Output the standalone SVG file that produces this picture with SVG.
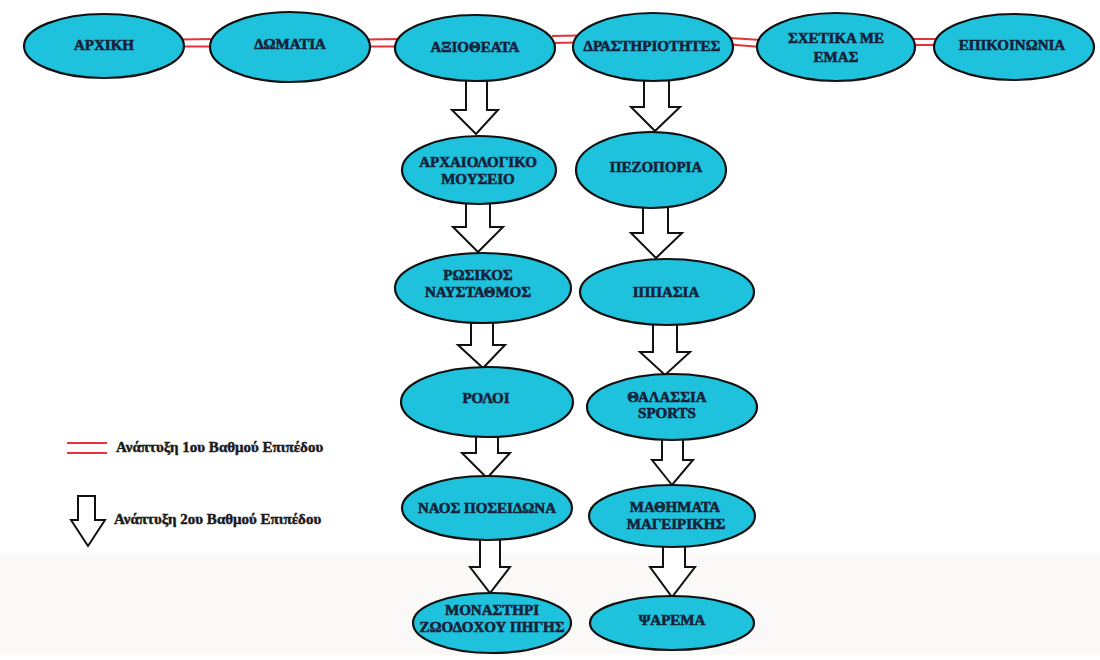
<svg xmlns="http://www.w3.org/2000/svg" width="1100" height="660" viewBox="0 0 1100 660">
<defs>
<style>
.bg{fill:#ffffff}
.bg2{fill:#faf9f7}
.node{fill:#1fc2dd;stroke:#111;stroke-width:2.2}
.lbl{font-family:"Liberation Serif","Times New Roman",serif;font-weight:700;font-size:15px;fill:#16223a;text-anchor:middle;stroke:#16223a;stroke-width:0.6}
.leg{font-family:"Liberation Serif","Times New Roman",serif;font-weight:700;font-size:15px;fill:#1a1a1a;stroke:#1a1a1a;stroke-width:0.45}
.red{stroke:#e53238;stroke-width:1.8;fill:none}
.blk{fill:#ffffff;stroke:#111;stroke-width:2;stroke-linejoin:miter}
</style>
</defs>
<rect class="bg" x="0" y="0" width="1100" height="660"/>
<rect class="bg2" x="0" y="553" width="1100" height="102"/>

<g id="connectors">
<path class="red" d="M180,39.5 L214,39 M180,46.5 L214,46.5"/>
<path class="red" d="M366,39.5 L399,39 M366,46.5 L399,46.5"/>
<path class="red" d="M552,36 L577,35.5 M552,43 L577,42.5"/>
<path class="red" d="M730,38 L761,40 M730,44.5 L761,47"/>
<path class="red" d="M912,39 L938,39 M912,45 L938,45"/>

<path class="blk" d="M466,78 L487,78 L487,110 L498,110 L476,134 L452,110 L466,110 Z"/>
<path class="blk" d="M644,78 L669,78 L669,107 L680,107 L655,131 L631,107 L644,107 Z"/>
<path class="blk" d="M466,200 L490,200 L490,227 L503,227 L478,252 L453,227 L466,227 Z"/>
<path class="blk" d="M643,204 L668,204 L668,233 L682,233 L656,258 L631,233 L643,233 Z"/>
<path class="blk" d="M471,318 L493,318 L493,345 L505,345 L483,368 L458,345 L471,345 Z"/>
<path class="blk" d="M653,321 L677,321 L677,352 L690,352 L665,375 L640,352 L653,352 Z"/>
<path class="blk" d="M476,433 L498,433 L498,453 L510,453 L487,478 L462,453 L476,453 Z"/>
<path class="blk" d="M662,436 L683,436 L683,460 L693,460 L672,485 L652,460 L662,460 Z"/>
<path class="blk" d="M480,536 L500,536 L500,567 L510,567 L490,593 L470,567 L480,567 Z"/>
<path class="blk" d="M663,543 L685,543 L685,567 L695,567 L672,597 L650,567 L663,567 Z"/>
</g>

<g id="n-arxiki"><ellipse class="node" cx="104" cy="46" rx="80" ry="32"/><text class="lbl" x="104" y="50" font-weight="bold">ΑΡΧΙΚΗ</text></g>
<g id="n-domatia"><ellipse class="node" cx="290" cy="47" rx="80" ry="35"/><text class="lbl" x="290" y="49" font-weight="bold">ΔΩΜΑΤΙΑ</text></g>
<g id="n-axiotheata"><ellipse class="node" cx="475" cy="48" rx="80" ry="33"/><text class="lbl" x="475" y="52" font-weight="bold">ΑΞΙΟΘΕΑΤΑ</text></g>
<g id="n-drastiriotites"><ellipse class="node" cx="653" cy="47" rx="80" ry="34"/><text class="lbl" x="652" y="51" font-weight="bold">ΔΡΑΣΤΗΡΙΟΤΗΤΕΣ</text></g>
<g id="n-schetika"><ellipse class="node" cx="836" cy="47" rx="79" ry="34"/><text class="lbl" x="836" y="43" font-weight="bold">ΣΧΕΤΙΚΑ ΜΕ</text><text class="lbl" x="836" y="62" font-weight="bold">ΕΜΑΣ</text></g>
<g id="n-epikoinonia"><ellipse class="node" cx="1014" cy="47" rx="80" ry="33"/><text class="lbl" x="1012" y="50" font-weight="bold">ΕΠΙΚΟΙΝΩΝΙΑ</text></g>

<g id="n-mouseio"><ellipse class="node" cx="479" cy="170" rx="77" ry="34"/><text class="lbl" x="478" y="167" font-weight="bold">ΑΡΧΑΙΟΛΟΓΙΚΟ</text><text class="lbl" x="478" y="184" font-weight="bold">ΜΟΥΣΕΙΟ</text></g>
<g id="n-pezoporia"><ellipse class="node" cx="651" cy="170" rx="75" ry="38"/><text class="lbl" x="656" y="172" font-weight="bold">ΠΕΖΟΠΟΡΙΑ</text></g>
<g id="n-naustathmos"><ellipse class="node" cx="483" cy="288" rx="88" ry="35"/><text class="lbl" x="478" y="280" font-weight="bold">ΡΩΣΙΚΟΣ</text><text class="lbl" x="478" y="297" font-weight="bold">ΝΑΥΣΤΑΘΜΟΣ</text></g>
<g id="n-ippasia"><ellipse class="node" cx="667" cy="292" rx="87" ry="33"/><text class="lbl" x="666" y="297" font-weight="bold">ΙΠΠΑΣΙΑ</text></g>
<g id="n-roloi"><ellipse class="node" cx="487" cy="402" rx="86" ry="35"/><text class="lbl" x="486" y="403" font-weight="bold">ΡΟΛΟΙ</text></g>
<g id="n-thalassia"><ellipse class="node" cx="672" cy="407" rx="85" ry="33"/><text class="lbl" x="667" y="402" font-weight="bold">ΘΑΛΑΣΣΙΑ</text><text class="lbl" x="667" y="418" font-weight="bold">SPORTS</text></g>
<g id="n-naos"><ellipse class="node" cx="487" cy="508" rx="85" ry="32"/><text class="lbl" x="487" y="513" font-weight="bold">ΝΑΟΣ ΠΟΣΕΙΔΩΝΑ</text></g>
<g id="n-mathimata"><ellipse class="node" cx="672" cy="516" rx="83" ry="31"/><text class="lbl" x="675" y="512" font-weight="bold">ΜΑΘΗΜΑΤΑ</text><text class="lbl" x="676" y="529" font-weight="bold">ΜΑΓΕΙΡΙΚΗΣ</text></g>
<g id="n-monastiri"><ellipse class="node" cx="492" cy="623" rx="79" ry="30"/><text class="lbl" x="492" y="615" font-weight="bold">ΜΟΝΑΣΤΗΡΙ</text><text class="lbl" x="492" y="632" font-weight="bold">ΖΩΟΔΟΧΟΥ ΠΗΓΗΣ</text></g>
<g id="n-psarema"><ellipse class="node" cx="672" cy="623" rx="82" ry="27"/><text class="lbl" x="672" y="625" font-weight="bold">ΨΑΡΕΜΑ</text></g>

<g id="legend">
<path class="red" d="M67,443 L107,443 M67,453 L107,453"/>
<text class="leg" x="116" y="452" font-weight="bold">Ανάπτυξη 1ου Βαθμού Επιπέδου</text>
<path class="blk" d="M78,496 L95,496 L95,520 L105,520 L88,546 L71,520 L78,520 Z"/>
<text class="leg" x="114" y="524" font-weight="bold">Ανάπτυξη 2ου Βαθμού Επιπέδου</text>
</g>
</svg>
